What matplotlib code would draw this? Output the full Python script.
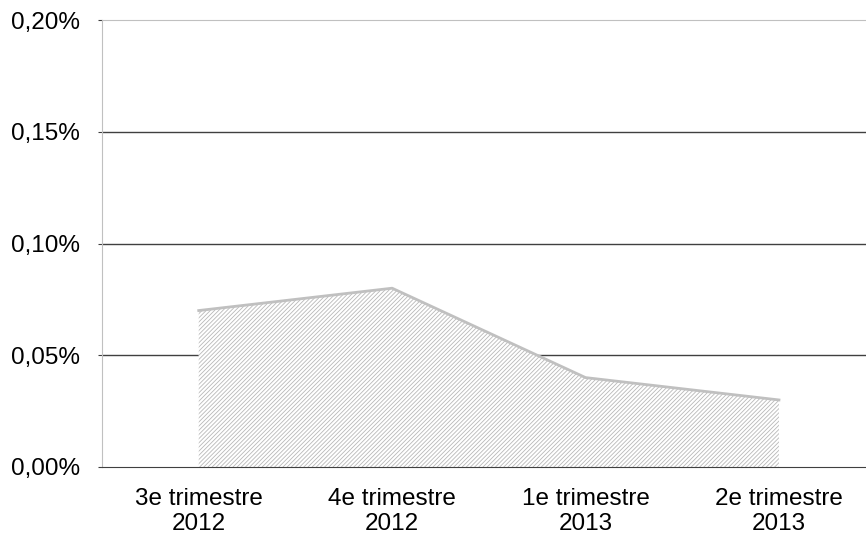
import matplotlib
matplotlib.use("Agg")
import matplotlib.pyplot as plt
from matplotlib.ticker import FuncFormatter

categories = ["3e trimestre\n2012", "4e trimestre\n2012", "1e trimestre\n2013", "2e trimestre\n2013"]
values = [0.07, 0.08, 0.04, 0.03]  # in %
yticks = [0.0, 0.05, 0.10, 0.15, 0.20]

plt.rcParams['font.family'] = ['Liberation Sans', 'DejaVu Sans']
plt.rcParams['hatch.linewidth'] = 0.6
plt.rcParams['hatch.color'] = '#b8b8b8'

fig = plt.figure(figsize=(8.66, 5.41), dpi=100)
ax = fig.add_axes([0.1178, 0.1368, 0.8822, 0.8262])

x = list(range(len(values)))
ax.fill_between(x, values, 0, facecolor='white', edgecolor='#b8b8b8', hatch='////////', linewidth=0, zorder=2)
ax.plot(x, values, color='#c0c0c0', linewidth=2, zorder=3)

ax.set_xlim(-0.5, 3.45)
ax.set_ylim(0, 0.20)
ax.set_yticks(yticks)
ax.yaxis.set_major_formatter(FuncFormatter(lambda v, p: f"{v:.2f}%".replace('.', ',')))
ax.set_xticks(x)
ax.set_xticklabels(categories, linespacing=1.2)

for y in yticks[1:-1]:
    ax.axhline(y, color='#404040', linewidth=1, zorder=1)

ax.spines['top'].set_color('#c0c0c0')
ax.spines['left'].set_color('#c0c0c0')
ax.spines['right'].set_visible(False)
ax.spines['bottom'].set_color('#404040')
ax.tick_params(axis='both', labelsize=17.5, colors='black')
ax.tick_params(axis='y', length=3, color='#404040', pad=13)
ax.tick_params(axis='x', length=0, pad=15)

fig.savefig("out.png", dpi=100)
